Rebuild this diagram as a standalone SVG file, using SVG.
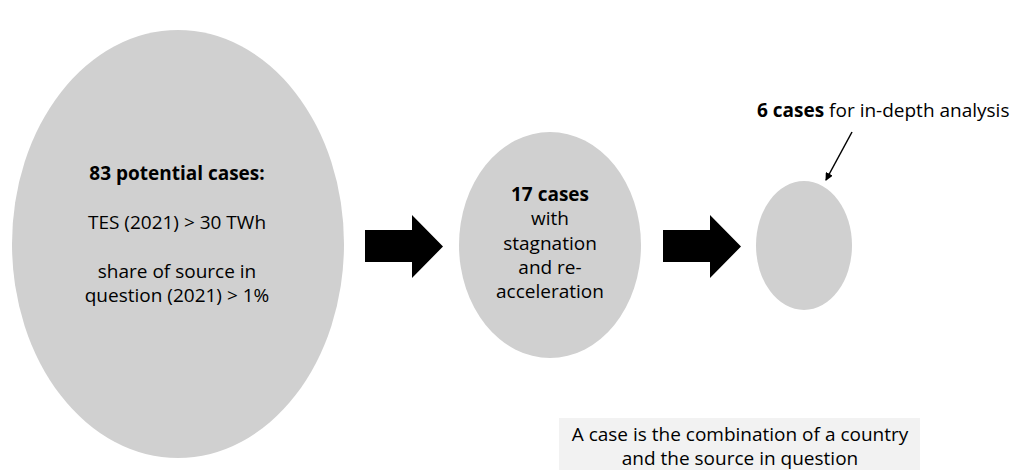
<svg xmlns="http://www.w3.org/2000/svg" width="1015" height="470" viewBox="0 0 1015 470">
<style>
.n{fill:#d0d0d0;}
text{font-family:"Open Sans","Liberation Sans",sans-serif;font-size:19px;fill:#000;}
.c{text-anchor:middle;}
.b{font-weight:bold;}
.arr{fill:#000;}
</style>
<defs>
<marker id="ah" markerWidth="8" markerHeight="8" refX="7" refY="4" orient="auto" markerUnits="userSpaceOnUse"><path d="M0,0 L8,4 L0,8 Z" fill="#000"/></marker>
</defs>
<rect width="1015" height="470" fill="#fff"/>
<g id="node-83">
<ellipse class="n" cx="178" cy="244" rx="166" ry="214"/>
<text class="c b" x="177" y="180">83 potential cases:</text>
<text class="c" x="177" y="229">TES (2021) &gt; 30 TWh</text>
<text class="c" x="177" y="278">share of source in</text>
<text class="c" x="177" y="302">question (2021) &gt; 1%</text>
</g>
<g id="node-17">
<ellipse class="n" cx="550" cy="245" rx="91" ry="113"/>
<text class="c b" x="550" y="201">17 cases</text>
<text class="c" x="550" y="225">with</text>
<text class="c" x="550" y="250">stagnation</text>
<text class="c" x="550" y="274">and re-</text>
<text class="c" x="550" y="298">acceleration</text>
</g>
<g id="node-6">
<ellipse class="n" cx="804" cy="245.5" rx="48" ry="64.5"/>
</g>
<g id="label-6">
<text x="757" y="117"><tspan class="b">6 cases</tspan> for in-depth analysis</text>
</g>
<g id="note">
<rect x="559" y="418" width="361" height="52" fill="#f2f2f2"/>
<text class="c" x="740" y="441">A case is the combination of a country</text>
<text class="c" x="740" y="465">and the source in question</text>
</g>
<g id="connectors">
<polygon class="arr" points="365,230 412,230 412,215 443,246.5 412,278 412,262 365,262"/>
<polygon class="arr" points="663,230 710,230 710,215 741,246.5 710,278 710,262 663,262"/>
<line x1="852" y1="132" x2="826" y2="180" stroke="#000" stroke-width="1.5" marker-end="url(#ah)"/>
</g>
</svg>
